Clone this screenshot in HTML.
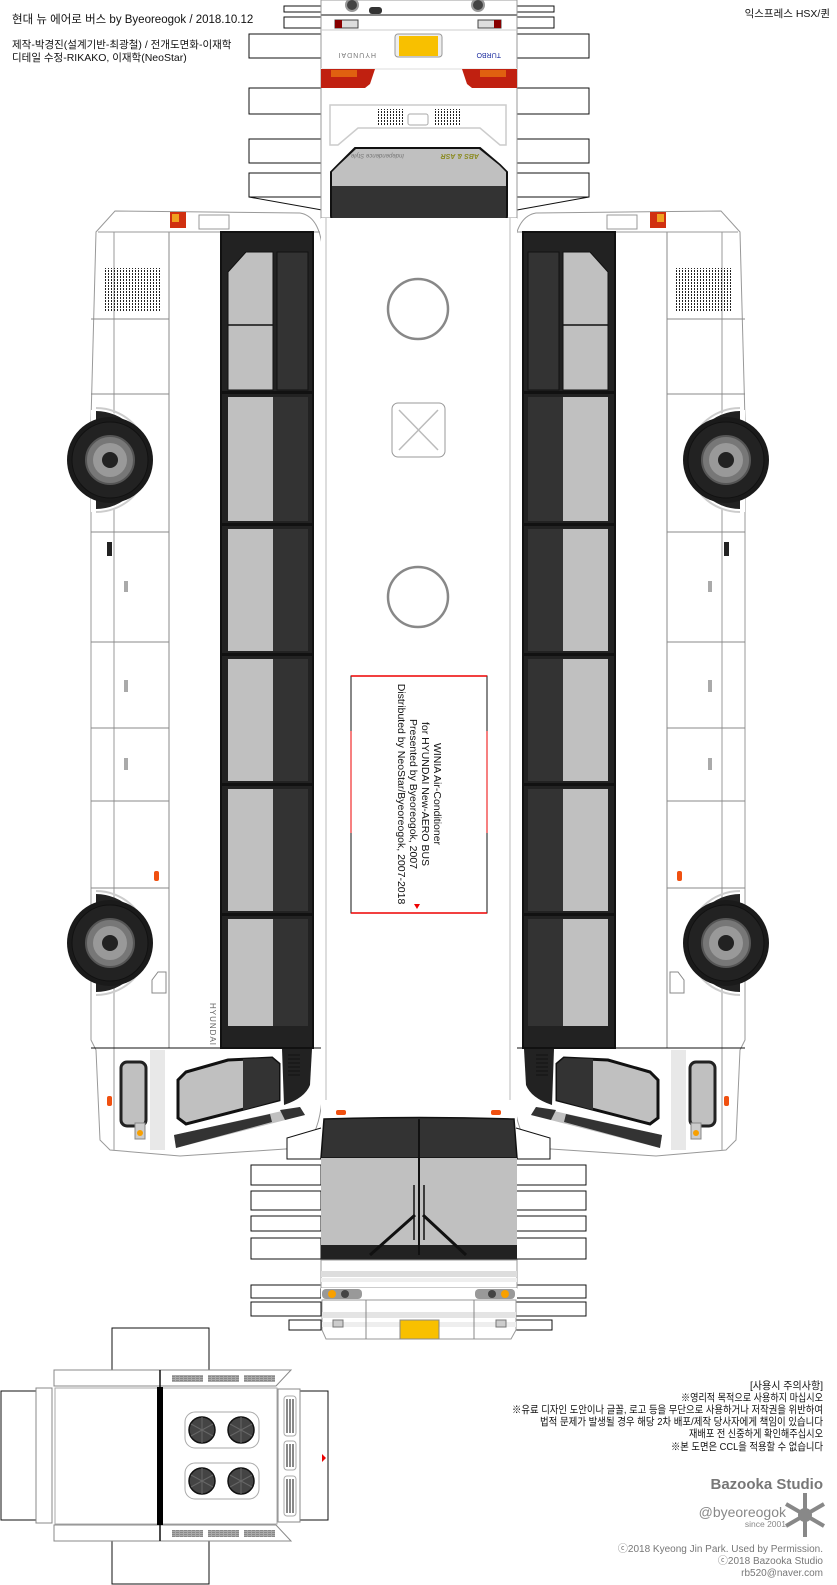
<!DOCTYPE html>
<html><head><meta charset="utf-8"><style>
html,body{margin:0;padding:0;background:#fff;}
svg{display:block;}
text{font-family:"Liberation Sans","Noto Sans CJK KR",sans-serif;}
</style></head><body>
<svg width="837" height="1585" viewBox="0 0 837 1585" xmlns="http://www.w3.org/2000/svg">
<defs>
<pattern id="dots" width="3" height="3" patternUnits="userSpaceOnUse"><rect width="1" height="2" fill="#222"/></pattern>
<pattern id="grl" width="4" height="2" patternUnits="userSpaceOnUse"><rect width="4" height="2" fill="#aaa"/><rect width="3" height="1" fill="#888"/></pattern>
<g id="wheel">
<circle r="43" fill="#1a1a1a"/><circle r="38" fill="#222" stroke="#111"/>
<circle r="24" fill="#777" stroke="#555" stroke-width="2"/><circle r="17" fill="#999"/>
<circle r="8" fill="#222"/>
</g>
<g id="fan"><circle r="13" fill="#444" stroke="#111" stroke-width="1.5"/><path d="M0,0L0,-13M0,0L11,6M0,0L-11,6M0,0L11,-6M0,0L-11,-6M0,0L0,13" stroke="#666" stroke-width="1"/></g>
<g id="side">
<path d="M115,211 L300,213 Q318,216 322,245 L322,1100 Q318,1140 300,1148 L180,1156 L110,1150 L100,1140 L96,1050 L91,1040 L91,420 L96,232 Z" fill="#fff" stroke="#999" stroke-width="1"/>
<line x1="114" y1="232" x2="114" y2="1150" stroke="#bbb" stroke-width="1.5"/>
<line x1="169" y1="232" x2="169" y2="1048" stroke="#888"/>
<line x1="98" y1="232" x2="320" y2="232" stroke="#999"/>
<g stroke="#888">
<line x1="91" y1="319" x2="169" y2="319"/><line x1="91" y1="394" x2="169" y2="394"/>
<line x1="91" y1="532" x2="169" y2="532"/><line x1="91" y1="642" x2="169" y2="642"/>
<line x1="91" y1="728" x2="169" y2="728"/><line x1="91" y1="801" x2="169" y2="801"/>
<line x1="91" y1="888" x2="169" y2="888"/>
</g>
<line x1="91" y1="1048" x2="322" y2="1048" stroke="#111"/>
<rect x="105" y="268" width="55" height="43" fill="url(#dots)"/>
<rect x="170" y="212" width="16" height="16" fill="#d03010"/><rect x="172" y="214" width="7" height="8" fill="#f0a020"/>
<rect x="199" y="215" width="30" height="14" fill="none" stroke="#999"/>
<path d="M91,410 L96,410 A50,50 0 0 1 96,512 L91,512 Z" fill="#fff"/>
<path d="M96,408 A52,52 0 0 1 96,512" fill="none" stroke="#ccc" stroke-width="2"/>
<path d="M96,411 A49,49 0 0 1 96,509 Z" fill="#222"/>
<path d="M96,891 A52,52 0 0 1 96,995" fill="none" stroke="#ccc" stroke-width="2"/>
<path d="M96,894 A49,49 0 0 1 96,992 Z" fill="#222"/>
<use href="#wheel" x="110" y="460"/><use href="#wheel" x="110" y="943"/>
<rect x="221" y="232" width="92" height="816" fill="#222" stroke="#111" stroke-width="2"/>
<path d="M246,252 L273,252 L273,390 L228,390 L228,272 Z" fill="#c0c0c0" stroke="#111"/>
<line x1="228" y1="325" x2="273" y2="325" stroke="#111" stroke-width="1.5"/>
<rect x="277" y="252" width="31" height="138" fill="#333" stroke="#111"/>
<g fill="#c0c0c0"><rect x="228" y="397" width="45" height="124"/><rect x="228" y="529" width="45" height="122"/><rect x="228" y="659" width="45" height="122"/><rect x="228" y="789" width="45" height="122"/><rect x="228" y="919" width="45" height="107"/></g>
<g fill="#333"><rect x="273" y="397" width="35" height="124"/><rect x="273" y="529" width="35" height="122"/><rect x="273" y="659" width="35" height="122"/><rect x="273" y="789" width="35" height="122"/><rect x="273" y="919" width="35" height="107"/></g>
<g fill="#111"><rect x="221" y="391" width="92" height="3"/><rect x="221" y="523" width="92" height="3"/><rect x="221" y="653" width="92" height="3"/><rect x="221" y="783" width="92" height="3"/><rect x="221" y="913" width="92" height="3"/></g>
<rect x="107" y="542" width="5" height="14" fill="#222"/>
<g fill="#aaa"><rect x="124" y="581" width="4" height="11"/><rect x="124" y="680" width="4" height="12"/><rect x="124" y="758" width="4" height="12"/></g>
<rect x="154" y="871" width="5" height="10" rx="2" fill="#f05010"/>
<path d="M152,980 L158,972 L166,972 L166,993 L152,993 Z" fill="#fff" stroke="#888"/>
<rect x="150" y="1050" width="15" height="100" fill="#e8e8e8"/>
<rect x="121" y="1062" width="25" height="64" rx="6" fill="#c0c0c0" stroke="#222" stroke-width="3"/>
<path d="M186,1072 L228,1060 L272,1058 L279,1064 L279,1100 L186,1124 L178,1118 L178,1080 Z" fill="#c0c0c0" stroke="#111" stroke-width="3"/>
<path d="M243,1059 L272,1058 L279,1064 L279,1100 L243,1110 Z" fill="#333"/>
<path d="M282,1049 L312,1049 L310,1085 Q305,1098 284,1105 Z" fill="#222"/>
<g stroke="#111"><line x1="288" y1="1055" x2="300" y2="1055"/><line x1="288" y1="1059" x2="300" y2="1059"/><line x1="288" y1="1063" x2="300" y2="1063"/><line x1="288" y1="1067" x2="300" y2="1067"/><line x1="288" y1="1071" x2="300" y2="1071"/><line x1="288" y1="1075" x2="300" y2="1075"/></g>
<path d="M174,1135 L300,1107 L305,1115 L176,1148 Z" fill="#c0c0c0"/>
<path d="M174,1135 L270,1114 L272,1122 L176,1148 Z" fill="#333"/>
<path d="M280,1110 L300,1107 L305,1115 L285,1120 Z" fill="#333"/>
<rect x="107" y="1096" width="5" height="10" rx="2" fill="#f05010"/>
<rect x="135" y="1123" width="10" height="16" fill="#ccc" stroke="#888"/><circle cx="140" cy="1133" r="3" fill="#f8a000"/>
</g>
</defs>

<text x="12" y="23" font-size="11.5" fill="#111">현대 뉴 에어로 버스 by Byeoreogok / 2018.10.12</text>
<text x="12" y="48" font-size="10.5" fill="#111">제작-박경진(설계기반-최광철) / 전개도면화-이재학</text>
<text x="12" y="61" font-size="10.5" fill="#111">디테일 수정-RIKAKO, 이재학(NeoStar)</text>
<text x="830" y="17" font-size="10.5" fill="#111" text-anchor="end">익스프레스 HSX/퀸</text>

<g fill="#fff" stroke="#111" stroke-width="1">
<rect x="284" y="6" width="37" height="6"/><rect x="284" y="17" width="37" height="11"/>
<rect x="249" y="34" width="72" height="24"/><rect x="249" y="88" width="72" height="26"/>
<rect x="249" y="139" width="72" height="24"/><rect x="249" y="173" width="72" height="24"/>
<rect x="517" y="6" width="37" height="6"/><rect x="517" y="17" width="37" height="11"/>
<rect x="517" y="34" width="72" height="24"/><rect x="517" y="88" width="72" height="26"/>
<rect x="517" y="139" width="72" height="24"/><rect x="517" y="173" width="72" height="24"/>
</g>
<line x1="249" y1="197" x2="322" y2="210" stroke="#111"/>
<line x1="589" y1="197" x2="517" y2="210" stroke="#111"/>

<use href="#side"/>
<use href="#side" transform="translate(836,0) scale(-1,1)"/>
<text transform="translate(210,1003) rotate(90)" font-size="8" fill="#666" letter-spacing="1">HYUNDAI</text>

<rect x="321" y="0" width="196" height="218" fill="#fff" stroke="#999"/>
<line x1="321" y1="15" x2="517" y2="15" stroke="#888" stroke-width="2"/>
<line x1="321" y1="30" x2="517" y2="30" stroke="#ccc"/>
<circle cx="352" cy="5" r="6" fill="#444" stroke="#999" stroke-width="2"/><circle cx="478" cy="5" r="6" fill="#444" stroke="#999" stroke-width="2"/>
<rect x="369" y="7" width="13" height="7" rx="3" fill="#333"/>
<rect x="335" y="20" width="23" height="8" fill="#ddd" stroke="#444"/><rect x="335" y="20" width="7" height="8" fill="#800"/>
<rect x="478" y="20" width="23" height="8" fill="#ddd" stroke="#444"/><rect x="494" y="20" width="7" height="8" fill="#800"/>
<rect x="395" y="34" width="47" height="23" rx="3" fill="#eee" stroke="#999"/>
<rect x="399" y="36" width="39" height="20" fill="#f8c000"/>
<text transform="translate(376,53) scale(-1,-1)" font-size="7" fill="#777" letter-spacing="1">HYUNDAI</text>
<text transform="translate(501,53) scale(-1,-1)" font-size="7" fill="#2030a0" font-family="Liberation Serif">TURBO</text>
<line x1="321" y1="69" x2="517" y2="69" stroke="#eee" stroke-width="2"/>
<path d="M321,69 L375,69 L370,84 L365,88 L321,88 Z" fill="#c02010"/><rect x="331" y="70" width="26" height="7" fill="#e06010"/>
<path d="M517,69 L462,69 L467,84 L472,88 L517,88 Z" fill="#c02010"/><rect x="480" y="70" width="26" height="7" fill="#e06010"/>
<path d="M330,105 L506,105 L506,145 L500,145 L480,128 L358,128 L338,145 L330,145 Z" fill="#fff" stroke="#ccc" stroke-width="1.5"/>
<rect x="377" y="109" width="26" height="16" fill="url(#dots)"/><rect x="434" y="109" width="26" height="16" fill="url(#dots)"/>
<rect x="408" y="114" width="20" height="11" rx="2" fill="#fff" stroke="#aaa"/>
<path d="M355,148 L480,148 L500,165 L507,172 L507,216 Q507,220 503,220 L335,220 Q331,220 331,216 L331,172 L338,165 Z" fill="#333" stroke="#111" stroke-width="2"/>
<path d="M356,149 L479,149 L499,165 L506,172 L506,186 L332,186 L332,172 L339,165 Z" fill="#c0c0c0"/>
<text transform="translate(404,154) rotate(180)" font-size="6" fill="#777" font-style="italic">Independence Style</text>
<text transform="translate(479,154) rotate(180)" font-size="7" fill="#8a8a20" font-style="italic" font-weight="bold">ABS &amp; ASR</text>
<rect x="338" y="222" width="9" height="7" rx="2" fill="#901010"/><rect x="489" y="222" width="9" height="7" rx="2" fill="#901010"/>

<rect x="321" y="218" width="196" height="902" fill="#fff"/>
<line x1="326" y1="218" x2="326" y2="1100" stroke="#bbb"/><line x1="510" y1="218" x2="510" y2="1100" stroke="#bbb"/>
<circle cx="418" cy="309" r="30" fill="#fff" stroke="#888" stroke-width="2.5"/>
<circle cx="418" cy="597" r="30" fill="#fff" stroke="#888" stroke-width="2.5"/>
<rect x="392" y="403" width="53" height="54" rx="6" fill="#fff" stroke="#999"/>
<path d="M399,410 L438,450 M438,410 L399,450" stroke="#bbb" stroke-width="1.5"/>
<rect x="351" y="676" width="136" height="237" fill="#fff" stroke="#111"/>
<line x1="351" y1="676" x2="487" y2="676" stroke="#e00" stroke-width="1.5"/><line x1="351" y1="913" x2="487" y2="913" stroke="#e00" stroke-width="1.5"/>
<line x1="351" y1="731" x2="351" y2="833" stroke="#e00"/><line x1="487" y1="731" x2="487" y2="833" stroke="#e00"/>
<path d="M414,904 L420,904 L417,909 Z" fill="#e00"/>
<g font-size="10.5" fill="#111" text-anchor="middle">
<text transform="translate(434,794) rotate(90)">WINIA Air-Conditioner</text>
<text transform="translate(422,794) rotate(90)">for HYUNDAI New-AERO BUS</text>
<text transform="translate(410,794) rotate(90)">Presented by Byeoreogok, 2007</text>
<text transform="translate(398,794) rotate(90)">Distributed by NeoStar/Byeoreogok, 2007-2018</text>
</g>
<rect x="336" y="1110" width="10" height="5" rx="2" fill="#f05010"/><rect x="491" y="1110" width="10" height="5" rx="2" fill="#f05010"/>

<g fill="#fff" stroke="#111" stroke-width="1">
<path d="M321,1128 L287,1138 L287,1159 L321,1159"/>
<path d="M516,1128 L550,1138 L550,1159 L516,1159"/>
<rect x="251" y="1165" width="70" height="20"/><rect x="251" y="1191" width="70" height="19"/><rect x="251" y="1216" width="70" height="15"/><rect x="251" y="1238" width="70" height="21"/><rect x="251" y="1285" width="70" height="13"/><rect x="251" y="1302" width="70" height="14"/><rect x="289" y="1320" width="32" height="10"/>
<rect x="516" y="1165" width="70" height="20"/><rect x="516" y="1191" width="70" height="19"/><rect x="516" y="1216" width="70" height="15"/><rect x="516" y="1238" width="70" height="21"/><rect x="516" y="1285" width="70" height="13"/><rect x="516" y="1302" width="70" height="14"/><rect x="516" y="1320" width="36" height="10"/>
</g>
<path d="M324,1119 Q420,1116 514,1119 L517,1158 L321,1158 Z" fill="#333" stroke="#111" stroke-width="1.5"/>
<rect x="321" y="1158" width="196" height="87" fill="#c0c0c0"/>
<rect x="321" y="1245" width="196" height="15" fill="#222"/>
<line x1="419" y1="1119" x2="419" y2="1255" stroke="#111" stroke-width="2"/>
<path d="M414,1185 L414,1240 M424,1185 L424,1240" stroke="#111" stroke-width="1.5"/>
<path d="M415,1215 L370,1255 M423,1215 L466,1255" stroke="#111" stroke-width="3"/>
<rect x="321" y="1260" width="196" height="28" fill="#fff" stroke="#999"/>
<rect x="321" y="1271" width="196" height="6" fill="#ddd"/><rect x="321" y="1278" width="196" height="4" fill="#eee"/>
<rect x="321" y="1288" width="196" height="12" fill="#fff"/>
<rect x="322" y="1289" width="40" height="10" rx="4" fill="#999"/><circle cx="332" cy="1294" r="4" fill="#f8a000"/><circle cx="345" cy="1294" r="4" fill="#444"/>
<rect x="475" y="1289" width="40" height="10" rx="4" fill="#999"/><circle cx="505" cy="1294" r="4" fill="#f8a000"/><circle cx="492" cy="1294" r="4" fill="#444"/>
<path d="M322,1300 L516,1300 L516,1330 L511,1339 L326,1339 L322,1330 Z" fill="#fff" stroke="#999"/>
<rect x="322" y="1312" width="194" height="6" fill="#e4e4e4"/><rect x="322" y="1322" width="194" height="5" fill="#eee"/>
<line x1="366" y1="1300" x2="366" y2="1339" stroke="#888"/><line x1="474" y1="1300" x2="474" y2="1339" stroke="#888"/>
<rect x="400" y="1320" width="39" height="19" fill="#f8c000" stroke="#888"/>
<rect x="333" y="1320" width="10" height="7" fill="#ccc" stroke="#777"/><rect x="496" y="1320" width="10" height="7" fill="#ccc" stroke="#777"/>

<g fill="#fff">
<rect x="112" y="1328" width="97" height="42" stroke="#111"/>
<rect x="112" y="1541" width="97" height="43" stroke="#111"/>
<rect x="1" y="1391" width="35" height="129" stroke="#111"/>
<rect x="300" y="1391" width="28" height="129" stroke="#111"/>
<path d="M54,1370 L291,1370 L276,1386 L54,1386 Z" stroke="#888"/>
<path d="M54,1541 L291,1541 L276,1525 L54,1525 Z" stroke="#888"/>
<rect x="36" y="1388" width="16" height="135" stroke="#888"/>
<rect x="278" y="1389" width="22" height="133" stroke="#888"/>
<rect x="55" y="1388" width="222" height="136" stroke="#aaa"/>
</g>
<line x1="160" y1="1370" x2="160" y2="1541" stroke="#111" stroke-width="1.5"/>
<rect x="157" y="1387" width="6" height="138" fill="#000"/>
<g fill="url(#grl)"><rect x="172" y="1375" width="31" height="7"/><rect x="208" y="1375" width="31" height="7"/><rect x="244" y="1375" width="31" height="7"/>
<rect x="172" y="1530" width="31" height="7"/><rect x="208" y="1530" width="31" height="7"/><rect x="244" y="1530" width="31" height="7"/></g>
<rect x="185" y="1412" width="74" height="36" rx="10" fill="#fff" stroke="#aaa"/>
<rect x="185" y="1463" width="74" height="36" rx="10" fill="#fff" stroke="#aaa"/>
<use href="#fan" x="202" y="1430"/><use href="#fan" x="241" y="1430"/><use href="#fan" x="202" y="1481"/><use href="#fan" x="241" y="1481"/>
<g fill="#fff" stroke="#aaa"><rect x="284" y="1396" width="12" height="40" rx="3"/><rect x="284" y="1441" width="12" height="29" rx="3"/><rect x="284" y="1476" width="12" height="40" rx="3"/></g>
<g stroke="#111" stroke-width="1"><path d="M287,1399V1433M290,1399V1433M293,1399V1433M287,1444V1467M290,1444V1467M293,1444V1467M287,1479V1513M290,1479V1513M293,1479V1513"/></g>
<path d="M322,1454 L326,1458 L322,1462 Z" fill="#e00"/>

<g font-size="10.5" fill="#111" text-anchor="end" lengthAdjust="spacingAndGlyphs">
<text x="823" y="1389" textLength="73" lengthAdjust="spacingAndGlyphs">[사용시 주의사항]</text>
<text x="823" y="1401" textLength="142" lengthAdjust="spacingAndGlyphs">※영리적 목적으로 사용하지 마십시오</text>
<text x="823" y="1413" textLength="311" lengthAdjust="spacingAndGlyphs">※유료 디자인 도안이나 글꼴, 로고 등을 무단으로 사용하거나 저작권을 위반하여</text>
<text x="823" y="1425" textLength="283" lengthAdjust="spacingAndGlyphs">법적 문제가 발생될 경우 해당 2차 배포/제작 당사자에게 책임이 있습니다</text>
<text x="823" y="1437" textLength="134" lengthAdjust="spacingAndGlyphs">재배포 전 신중하게 확인해주십시오</text>
<text x="823" y="1450" textLength="152" lengthAdjust="spacingAndGlyphs">※본 도면은 CCL을 적용할 수 없습니다</text>
</g>
<text x="823" y="1489" font-size="15" font-weight="bold" fill="#777" text-anchor="end">Bazooka Studio</text>
<text x="786" y="1517" font-size="14" fill="#888" text-anchor="end">@byeoreogok</text>
<text x="786" y="1527" font-size="8.5" fill="#888" text-anchor="end">since 2001</text>
<g stroke="#888" stroke-width="4" transform="translate(805,1515)"><path d="M0,-22V22M-19,-11L19,11M-19,11L19,-11"/></g>
<circle cx="805" cy="1515" r="7" fill="#888"/>
<g font-size="10" fill="#777" text-anchor="end">
<text x="823" y="1552">ⓒ2018 Kyeong Jin Park. Used by Permission.</text>
<text x="823" y="1564">ⓒ2018 Bazooka Studio</text>
<text x="823" y="1576">rb520@naver.com</text>
</g>
</svg>
</body></html>
